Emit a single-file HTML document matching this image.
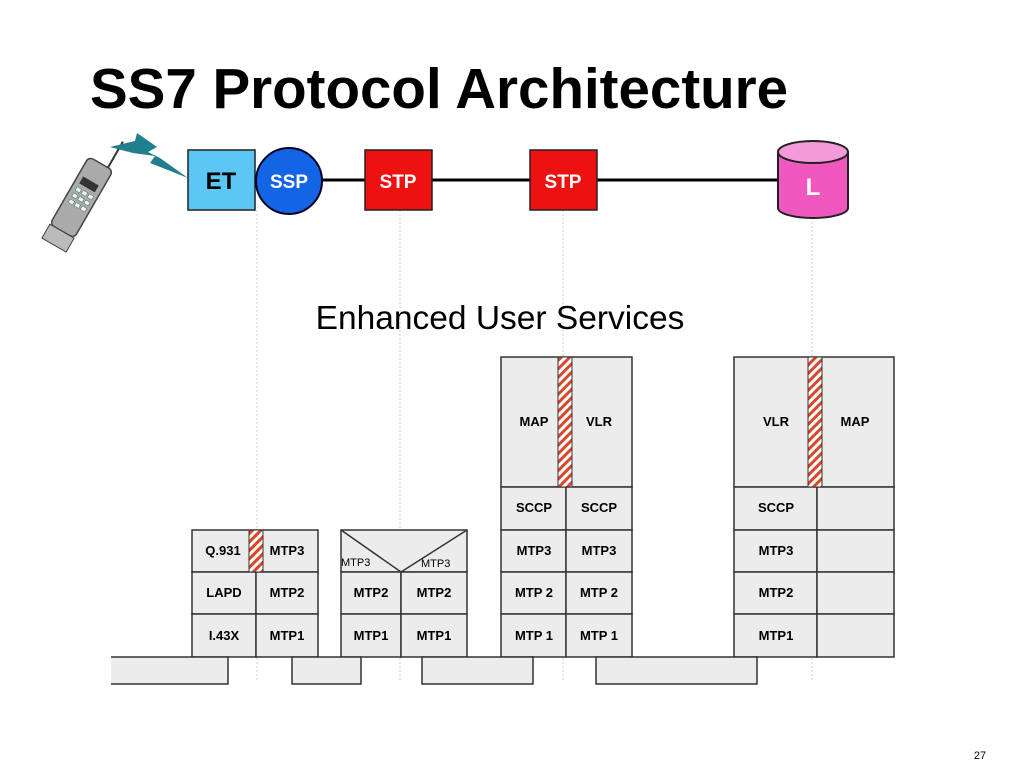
<!DOCTYPE html>
<html><head><meta charset="utf-8"><style>body{margin:0;background:#fff}svg{display:block}</style></head><body>
<svg width="1024" height="768" viewBox="0 0 1024 768" xmlns="http://www.w3.org/2000/svg" font-family="Liberation Sans, Arial, sans-serif">
<defs>
<pattern id="h" width="6" height="6" patternUnits="userSpaceOnUse" patternTransform="rotate(45)">
<rect width="6" height="6" fill="#fff"/><rect width="3" height="6" fill="#d9472b"/>
</pattern>
</defs>
<text x="90" y="108" font-size="56.5" font-weight="bold" fill="#000">SS7 Protocol Architecture</text>
<g stroke="#ccc" stroke-width="1" stroke-dasharray="2,2">
<line x1="257" y1="210" x2="257" y2="682"/>
<line x1="400" y1="210" x2="400" y2="682"/>
<line x1="563" y1="210" x2="563" y2="682"/>
<line x1="812" y1="218" x2="812" y2="682"/>
</g>
<g transform="translate(80,200) rotate(30)">
<rect x="-14" y="-42" width="28" height="78" rx="5" fill="#aaa" stroke="#444" stroke-width="1.5"/>
<rect x="-9" y="-22" width="18" height="8" fill="#333"/>
<g fill="#dfe" stroke="#666" stroke-width=".5">
<rect x="-9" y="-10" width="5" height="4"/><rect x="-2" y="-10" width="5" height="4"/><rect x="5" y="-10" width="5" height="4"/>
<rect x="-9" y="-3" width="5" height="4"/><rect x="-2" y="-3" width="5" height="4"/><rect x="5" y="-3" width="5" height="4"/>
<rect x="-9" y="4" width="5" height="4"/><rect x="-2" y="4" width="5" height="4"/><rect x="5" y="4" width="5" height="4"/>
</g>
<rect x="-14" y="36" width="28" height="16" fill="#bbb" stroke="#444"/>
<line x1="8" y1="-42" x2="8" y2="-72" stroke="#333" stroke-width="2"/>
</g>
<polygon points="110,147 135,141 137,133 157,147 148,152 160,158 188,178 150,163 155,156 133,153" fill="#1f7f8f"/>
<line x1="320" y1="180" x2="780" y2="180" stroke="#000" stroke-width="3"/>
<rect x="188" y="150" width="67" height="60" fill="#5cc6f4" stroke="#222" stroke-width="1.5"/>
<text x="221" y="189" font-size="24" font-weight="bold" text-anchor="middle">ET</text>
<circle cx="289" cy="181" r="33" fill="#1464e6" stroke="#002" stroke-width="2"/>
<text x="289" y="188" font-size="19" font-weight="bold" fill="#fff" text-anchor="middle">SSP</text>
<rect x="365" y="150" width="67" height="60" fill="#ee1111" stroke="#222" stroke-width="1.5"/>
<text x="398" y="188" font-size="19" font-weight="bold" fill="#fff" text-anchor="middle">STP</text>
<rect x="530" y="150" width="67" height="60" fill="#ee1111" stroke="#222" stroke-width="1.5"/>
<text x="563" y="188" font-size="19" font-weight="bold" fill="#fff" text-anchor="middle">STP</text>
<path d="M778,152 L778,208 A35,10 0 0 0 848,208 L848,152" fill="#f058c0" stroke="#222" stroke-width="2"/>
<ellipse cx="813" cy="152" rx="35" ry="11" fill="#f49ad8" stroke="#222" stroke-width="2"/>
<text x="813" y="195" font-size="24" font-weight="bold" fill="#fff" text-anchor="middle">L</text>
<text x="500" y="329" font-size="33.5" text-anchor="middle">Enhanced User Services</text>
<g fill="#ececec" stroke="#333" stroke-width="1.5">
<rect x="192" y="530" width="64" height="42"/><rect x="256" y="530" width="62" height="42"/>
<rect x="192" y="572" width="64" height="42"/><rect x="256" y="572" width="62" height="42"/>
<rect x="192" y="614" width="64" height="43"/><rect x="256" y="614" width="62" height="43"/>
<rect x="341" y="530" width="126" height="42"/>
<rect x="341" y="572" width="60" height="42"/><rect x="401" y="572" width="66" height="42"/>
<rect x="341" y="614" width="60" height="43"/><rect x="401" y="614" width="66" height="43"/>
<rect x="501" y="357" width="131" height="130"/>
<rect x="501" y="487" width="65" height="43"/><rect x="566" y="487" width="66" height="43"/>
<rect x="501" y="530" width="65" height="42"/><rect x="566" y="530" width="66" height="42"/>
<rect x="501" y="572" width="65" height="42"/><rect x="566" y="572" width="66" height="42"/>
<rect x="501" y="614" width="65" height="43"/><rect x="566" y="614" width="66" height="43"/>
<rect x="734" y="357" width="160" height="130"/>
<rect x="734" y="487" width="83" height="43"/><rect x="817" y="487" width="77" height="43"/>
<rect x="734" y="530" width="83" height="42"/><rect x="817" y="530" width="77" height="42"/>
<rect x="734" y="572" width="83" height="42"/><rect x="817" y="572" width="77" height="42"/>
<rect x="734" y="614" width="83" height="43"/><rect x="817" y="614" width="77" height="43"/>
<path d="M111,657 L228,657 L228,684 L111,684" />
<rect x="292" y="657" width="69" height="27"/>
<rect x="422" y="657" width="111" height="27"/>
<rect x="596" y="657" width="161" height="27"/>
</g>
<polyline points="341,530 401,572 467,530" fill="none" stroke="#333" stroke-width="1.5"/>
<g stroke="#333" stroke-width="1">
<rect x="249" y="530" width="14" height="42" fill="url(#h)"/>
<rect x="558" y="357" width="14" height="130" fill="url(#h)"/>
<rect x="808" y="357" width="14" height="130" fill="url(#h)"/>
</g>
<g font-size="13" font-weight="bold" text-anchor="middle">
<text x="223" y="555">Q.931</text><text x="287" y="555">MTP3</text>
<text x="224" y="597">LAPD</text><text x="287" y="597">MTP2</text>
<text x="224" y="640">I.43X</text><text x="287" y="640">MTP1</text>
<text x="371" y="597">MTP2</text><text x="434" y="597">MTP2</text>
<text x="371" y="640">MTP1</text><text x="434" y="640">MTP1</text>
<text x="534" y="426">MAP</text><text x="599" y="426">VLR</text>
<text x="534" y="512">SCCP</text><text x="599" y="512">SCCP</text>
<text x="534" y="555">MTP3</text><text x="599" y="555">MTP3</text>
<text x="534" y="597">MTP 2</text><text x="599" y="597">MTP 2</text>
<text x="534" y="640">MTP 1</text><text x="599" y="640">MTP 1</text>
<text x="776" y="426">VLR</text><text x="855" y="426">MAP</text>
<text x="776" y="512">SCCP</text><text x="776" y="555">MTP3</text>
<text x="776" y="597">MTP2</text><text x="776" y="640">MTP1</text>
</g>
<text x="341" y="566" font-size="11">MTP3</text>
<text x="421" y="567" font-size="11">MTP3</text>
<text x="980" y="759" font-size="11" text-anchor="middle">27</text>
</svg>
</body></html>
